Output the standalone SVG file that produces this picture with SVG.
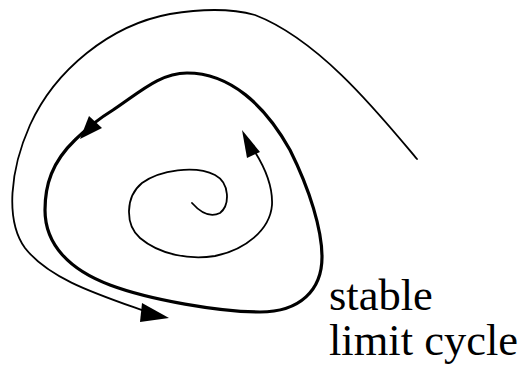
<svg xmlns="http://www.w3.org/2000/svg" width="530" height="368" viewBox="0 0 530 368">
<style>
.thin{fill:none;stroke:#000;stroke-width:1.8;stroke-linecap:round}
.thick{fill:none;stroke:#000;stroke-width:3.2}
.head{fill:#000;stroke:none}
.lbl{font-size:44.5px;fill:#000}
</style>
<rect width="530" height="368" fill="#fff"/>
<g id="connectors">
<g id="outer-trajectory">
<path class="thin" d="M417,159 C380,115 320,40 255,15 C230,8 200,9 170,14 C110,25 55,70 30,125 C10,170 5,220 25,248 C50,280 100,295 150,313"/>
<polygon class="head" points="169,318 142,303 140,322"/>
</g>
<g id="limit-cycle">
<path class="thick" d="M187,73 C230,73 265,105 290,150 C310,190 322,230 322,257 C322,290 300,312 260,312 C220,312 150,300 110,285 C70,270 45,245 45,210 C45,185 52,162 75,140 C90,125 100,118 113,110 C140,92 160,73 187,73 Z"/>
<polygon class="head" points="80,139 89,116 102,128"/>
</g>
<g id="inner-spiral">
<path class="thin" d="M192,203 C200,212 210,218 220,213 C230,205 230,183 215,175 C195,165 160,170 142,183 C125,197 125,225 140,238 C160,255 190,260 215,256 C245,250 270,230 272,205 C273,185 265,168 255,152"/>
<polygon class="head" points="242,130 247,158 260,152"/>
</g>
</g>
<g id="label" font-family="'Liberation Serif', 'Times New Roman', 'DejaVu Serif', serif">
<text class="lbl" x="329" y="310">stable</text>
<text class="lbl" x="329" y="355">limit cycle</text>
</g>
</svg>
